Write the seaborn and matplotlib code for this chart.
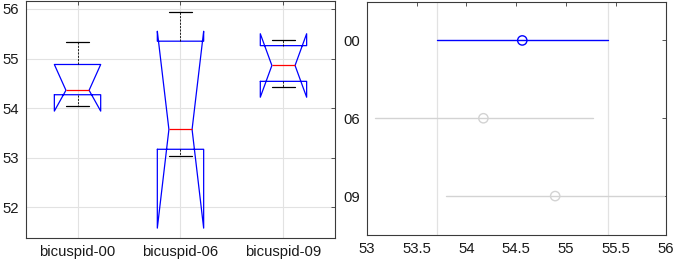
import numpy as np
import matplotlib
matplotlib.use('Agg')
import matplotlib.pyplot as plt
import seaborn as sns
import pandas as pd

# 왼쪽: notch boxplot 통계값
groups = ['bicuspid-00', 'bicuspid-06', 'bicuspid-09']
q1 = [54.27, 53.17, 54.54]
med = [54.36, 53.57, 54.86]
q3 = [54.88, 55.35, 55.26]
whislo = [54.05, 53.03, 54.43]
whishi = [55.34, 55.94, 55.38]
ci_lo = [53.94, 51.58, 54.22]
ci_hi = [54.88, 55.55, 55.50]
left_yticks = [52, 53, 54, 55, 56]

# 오른쪽: 평균 비교 (multcompare 스타일)
cmp_labels = ['00', '06', '09']
cmp_mean = [54.56, 54.17, 54.89]
cmp_lo = [53.70, 53.08, 53.80]
cmp_hi = [55.42, 55.27, 55.98]
right_xticks = [53, 53.5, 54, 54.5, 55, 55.5, 56]

sns.set_style('white')
plt.rcParams['font.family'] = ['Liberation Sans', 'DejaVu Sans']
plt.rcParams['font.size'] = 10.7

fig = plt.figure(figsize=(6.76, 2.61), dpi=100)
ax1 = fig.add_axes([0.0385, 0.088, 0.457, 0.910])
ax2 = fig.add_axes([0.5425, 0.0996, 0.4425, 0.8946])

axcol = '#3a3a3a'
gridcol = '#e2e2e2'
lightgray = '#d3d3d3'

# [1] boxplot
stats = []
for i, g in enumerate(groups):
    stats.append(dict(label=g, med=med[i], q1=q1[i], q3=q3[i],
                      whislo=whislo[i], whishi=whishi[i],
                      cilo=ci_lo[i], cihi=ci_hi[i], fliers=[]))

ax1.bxp(stats, positions=[1, 2, 3], widths=0.45, shownotches=True,
        showfliers=False,
        boxprops=dict(color='blue', linewidth=0.9),
        medianprops=dict(color='red', linewidth=0.9),
        whiskerprops=dict(color='black', linestyle=(0, (2.5, 1.5)), linewidth=0.6),
        capprops=dict(color='black', linewidth=0.9))
ax1.set_xlim(0.5, 3.5)
ax1.set_ylim(51.38, 56.17)
ax1.set_xticks([1, 2, 3], groups)
ax1.set_yticks(left_yticks, [str(v) for v in left_yticks])
ax1.grid(True, color=gridcol, linewidth=0.8)
ax1.set_axisbelow(True)

# [2] 평균 비교
df = pd.DataFrame({'grp': cmp_labels, 'mean': cmp_mean, 'lo': cmp_lo, 'hi': cmp_hi})
cols = ['blue', lightgray, lightgray]
for i, row in df.iterrows():
    ax2.plot([row['lo'], row['hi']], [row['grp'], row['grp']], color=cols[i],
             linewidth=1.0, zorder=2)
sns.scatterplot(data=df, x='mean', y='grp', hue='grp', palette=cols, ax=ax2,
                s=45, marker='o', linewidth=1.0, legend=False, zorder=3)
# 스캐터 마커를 빈 원으로
coll = ax2.collections[-1]
coll.set_facecolor('none')
coll.set_edgecolor(cols)
ax2.axvline(cmp_lo[0], color=gridcol, linewidth=0.9, zorder=1)
ax2.axvline(cmp_hi[0], color=gridcol, linewidth=0.9, zorder=1)
ax2.set_xlim(53, 56)
ax2.set_ylim(2.5, -0.5)
ax2.set_xticks(right_xticks, [f'{v:g}' for v in right_xticks])
ax2.set_xlabel('')
ax2.set_ylabel('')

for ax in (ax1, ax2):
    ax.tick_params(direction='in', top=True, right=True, length=3, width=0.6,
                   colors=axcol, labelsize=10.7, pad=5)
    for sp in ax.spines.values():
        sp.set_color(axcol)
        sp.set_linewidth(0.8)
    for t in ax.get_xticklabels() + ax.get_yticklabels():
        t.set_color('#1a1a1a')

fig.savefig('out.png', dpi=100)
